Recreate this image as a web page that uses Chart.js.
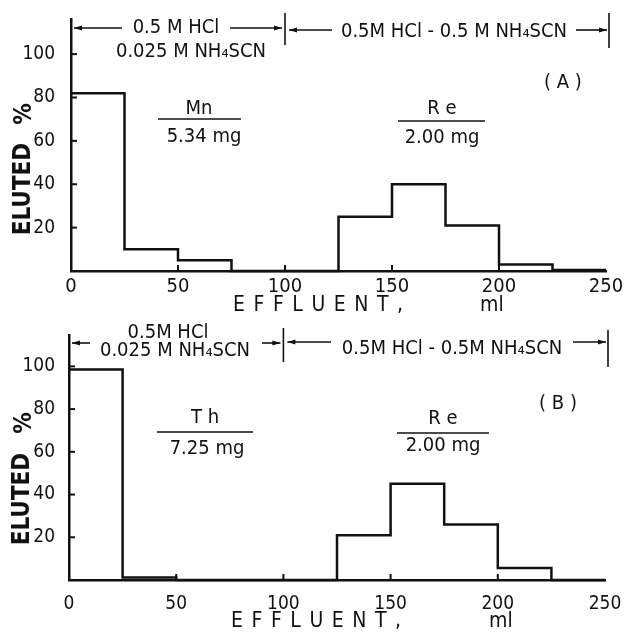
<!DOCTYPE html>
<html>
<head>
<meta charset="utf-8">
<script src="https://cdn.jsdelivr.net/npm/chart.js@4.4.1/dist/chart.umd.min.js"></script>
<style>
  html, body { margin: 0; padding: 0; background: #fff; }
  #wrap { position: relative; width: 629px; height: 636px; }
  canvas { position: absolute; left: 0; }
</style>
</head>
<body>
<div id="wrap">
  <canvas id="chartA" width="629" height="318" style="top:0"></canvas>
  <canvas id="chartB" width="629" height="318" style="top:318px"></canvas>
</div>
<script>
// effluent bins (ml) and % eluted per 25 ml fraction
const binEdges = [0, 25, 50, 75, 100, 125, 150, 175, 200, 225, 250];
const elutedA = [82, 10, 5, 0, 0, 25, 40, 21, 3, 0.5];   // Mn, then Re
const elutedB = [98.5, 1.2, 0, 0, 0, 21, 45, 26, 5.6, 0]; // Th, then Re
const xTicks = [0, 50, 100, 150, 200, 250];
const yTicks = [20, 40, 60, 80, 100];

const BLACK = '#111';
const FONT = '"DejaVu Sans Condensed", "Liberation Sans Narrow", "DejaVu Sans", sans-serif';

function arrow(ctx, x1, x2, y) {
  ctx.beginPath(); ctx.moveTo(x1, y); ctx.lineTo(x2, y); ctx.stroke();
  const d = x2 > x1 ? 1 : -1;
  ctx.beginPath();
  ctx.moveTo(x2, y); ctx.lineTo(x2 - 8 * d, y - 2.5); ctx.lineTo(x2 - 8 * d, y + 2.5);
  ctx.closePath(); ctx.fill();
}
function vbar(ctx, x, y1, y2) {
  ctx.beginPath(); ctx.moveTo(x, y1); ctx.lineTo(x, y2); ctx.stroke();
}
function hline(ctx, x1, x2, y) {
  ctx.beginPath(); ctx.moveTo(x1, y); ctx.lineTo(x2, y); ctx.stroke();
}
function txt(ctx, s, x, y, size, align, weight) {
  ctx.font = (weight || 'normal') + ' ' + size + 'px ' + FONT;
  ctx.textAlign = align || 'center';
  ctx.textBaseline = 'middle';
  ctx.fillText(s, x, y);
}
function spaced(ctx, s, x, y, size, width) {
  ctx.font = size + 'px ' + FONT;
  ctx.textAlign = 'left';
  ctx.textBaseline = 'middle';
  let w = 0;
  for (const c of s) w += ctx.measureText(c).width;
  const gap = (width - w) / (s.length - 1);
  let cx = x;
  for (const c of s) { ctx.fillText(c, cx, y); cx += ctx.measureText(c).width + gap; }
}
function vtxt(ctx, s, x, y, size) {
  ctx.save();
  ctx.translate(x, y); ctx.rotate(-Math.PI / 2);
  txt(ctx, s, 0, 0, size, 'center', 'bold');
  ctx.restore();
}

// small inward tick marks on both axes
const innerTicks = {
  id: 'innerTicks',
  afterDraw(chart) {
    const { ctx, scales: { x, y } } = chart;
    ctx.save();
    ctx.strokeStyle = BLACK; ctx.lineWidth = 2;
    yTicks.forEach(v => hline(ctx, x.left, x.left + 6, y.getPixelForValue(v)));
    xTicks.slice(1, -1).forEach(v => vbar(ctx, x.getPixelForValue(v), y.bottom, y.bottom - 6));
    ctx.restore();
  }
};

function annotate(offset, draw) {
  return {
    id: 'notes',
    afterDraw(chart) {
      const ctx = chart.ctx;
      ctx.save();
      ctx.translate(0, -offset);
      ctx.fillStyle = BLACK; ctx.strokeStyle = BLACK; ctx.lineWidth = 1.6;
      draw(ctx, chart.scales.x, chart.scales.y);
      ctx.restore();
    }
  };
}

function makeChart(id, values, o, notes) {
  return new Chart(document.getElementById(id), {
    type: 'line',
    data: {
      datasets: [{
        data: binEdges.map((e, i) => ({ x: e, y: values[Math.min(i, values.length - 1)] })),
        stepped: 'before',
        borderColor: BLACK,
        borderWidth: 2.5,
        pointRadius: 0,
        fill: false,
        clip: false
      }]
    },
    options: {
      responsive: false,
      animation: false,
      devicePixelRatio: 1,
      layout: { padding: { top: o.top, right: o.right, left: 0, bottom: 0 } },
      plugins: { legend: { display: false }, tooltip: { enabled: false } },
      scales: {
        x: {
          type: 'linear', min: 0, max: 250,
          afterBuildTicks: s => { s.ticks = xTicks.map(v => ({ value: v })); },
          afterFit: s => { s.height = o.xh; },
          grid: { display: false },
          border: { color: BLACK, width: 2.5 },
          ticks: { color: BLACK, padding: o.xpad, autoSkip: false, maxRotation: 0,
                   font: { family: FONT, size: o.xfs } }
        },
        y: {
          min: 0, max: o.ymax,
          afterBuildTicks: s => { s.ticks = yTicks.map(v => ({ value: v })); },
          afterFit: s => { s.width = o.yw; },
          grid: { display: false },
          border: { color: BLACK, width: 2.5 },
          ticks: { color: BLACK, padding: o.ypad, font: { family: FONT, size: 19 } }
        }
      }
    },
    plugins: [innerTicks, annotate(o.offset, notes)]
  });
}

makeChart('chartA', elutedA,
  { top: 14, right: 23, xh: 47, yw: 71, ymax: 116, xpad: -4, ypad: 8, xfs: 20, offset: 0 },
  (ctx, xs) => {
    const x100 = xs.getPixelForValue(100), x250 = xs.getPixelForValue(250);
    arrow(ctx, 122, 74, 28);
    txt(ctx, '0.5 M HCl', 176, 28, 20);
    arrow(ctx, 230, x100 - 3, 28);
    vbar(ctx, x100, 13, 45);
    txt(ctx, '0.025 M NH₄SCN', 191, 52, 20);
    arrow(ctx, 332, x100 + 4, 30);
    txt(ctx, '0.5M HCl - 0.5 M NH₄SCN', 454, 32, 20);
    arrow(ctx, 576, x250 + 1, 30);
    vbar(ctx, x250 + 3, 13, 48);
    txt(ctx, '( A )', 563, 83, 20);
    txt(ctx, 'Mn', 199, 109, 20);
    hline(ctx, 158, 241, 119);
    txt(ctx, '5.34 mg', 204, 137, 20);
    txt(ctx, 'R e', 442, 109, 20);
    hline(ctx, 398, 485, 121);
    txt(ctx, '2.00 mg', 442, 138, 20);
    vtxt(ctx, '%', 25, 114, 24);
    vtxt(ctx, 'ELUTED', 24, 189, 24);
    spaced(ctx, 'EFFLUENT,', 233, 306, 21, 170);
    txt(ctx, 'ml', 480, 306, 21, 'left');
  });

makeChart('chartB', elutedB,
  { top: 10, right: 24, xh: 56, yw: 69, ymax: 114.5, xpad: 5, ypad: 6, xfs: 19, offset: 318 },
  (ctx, xs) => {
    const x100 = xs.getPixelForValue(100), x250 = xs.getPixelForValue(250);
    arrow(ctx, 90, 72, 343);
    txt(ctx, '0.5M HCl', 168, 333, 20);
    txt(ctx, '0.025 M NH₄SCN', 175, 351, 20);
    arrow(ctx, 262, x100 - 3, 343);
    vbar(ctx, x100, 328, 362);
    arrow(ctx, 331, x100 + 4, 342);
    txt(ctx, '0.5M HCl - 0.5M NH₄SCN', 452, 349, 20);
    arrow(ctx, 573, x250 + 1, 342);
    vbar(ctx, x250 + 3, 330, 367);
    txt(ctx, '( B )', 558, 404, 20);
    txt(ctx, 'T h', 205, 418, 20);
    hline(ctx, 157, 253, 432);
    txt(ctx, '7.25 mg', 207, 449, 20);
    txt(ctx, 'R e', 443, 419, 20);
    hline(ctx, 397, 489, 433);
    txt(ctx, '2.00 mg', 443, 446, 20);
    vtxt(ctx, '%', 25, 423, 24);
    vtxt(ctx, 'ELUTED', 23, 499, 24);
    spaced(ctx, 'EFFLUENT,', 231, 622, 21, 170);
    txt(ctx, 'ml', 489, 622, 21, 'left');
  });
</script>
</body>
</html>
